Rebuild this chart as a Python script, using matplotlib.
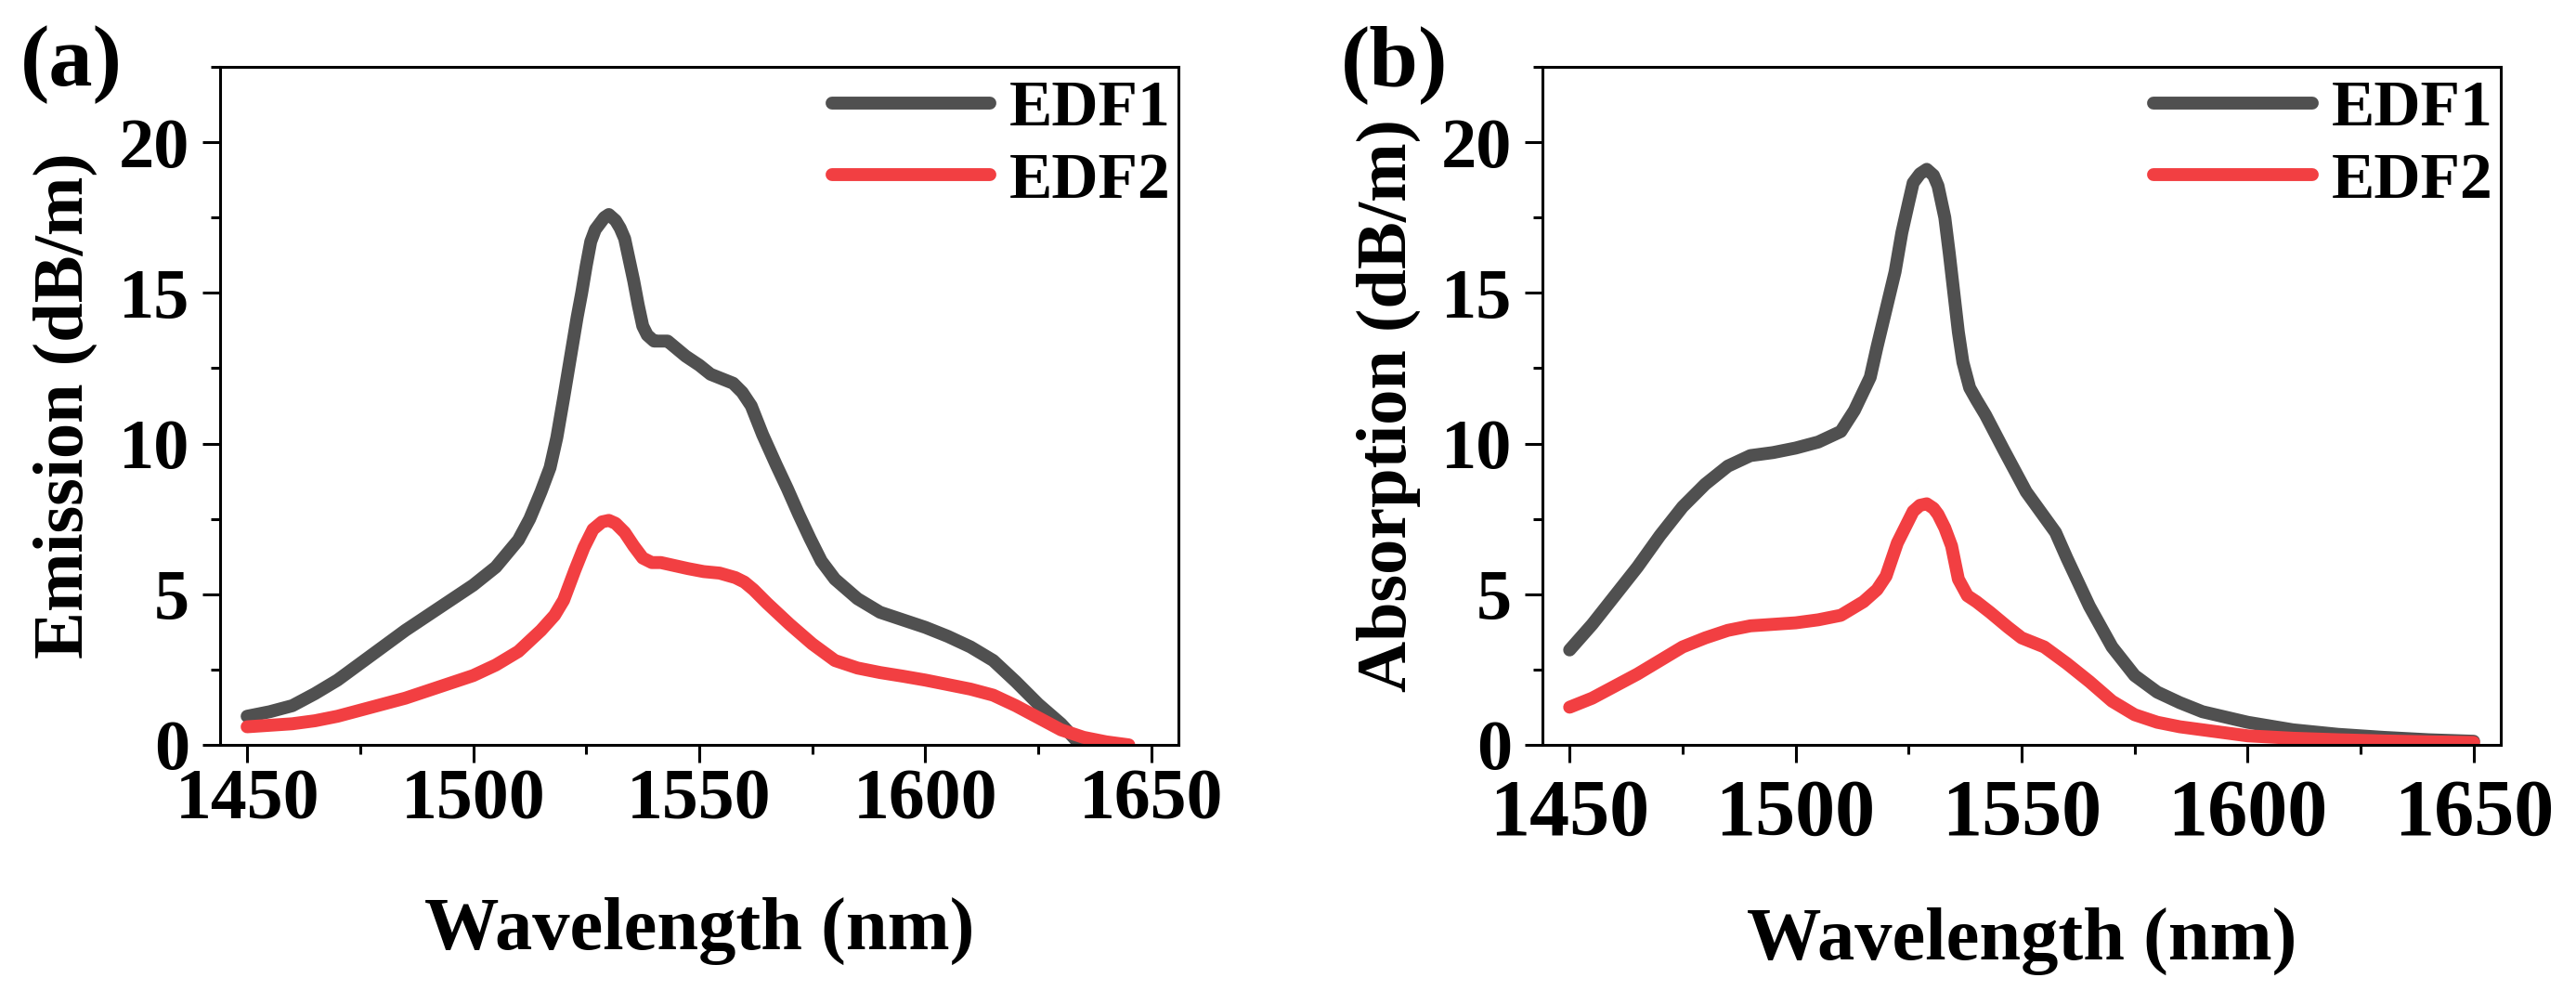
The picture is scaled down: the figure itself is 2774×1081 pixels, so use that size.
import matplotlib
matplotlib.use("Agg")
import matplotlib.pyplot as plt
from matplotlib.ticker import MultipleLocator

plt.rcParams['font.family'] = ['Liberation Serif', 'DejaVu Serif']
plt.rcParams['font.weight'] = 'bold'

# Emission (panel a)
em_wl = [1450, 1455, 1460, 1465, 1470, 1475, 1480, 1485, 1490, 1495, 1500, 1505, 1510, 1512.5,
         1515, 1517, 1518.5, 1520, 1522, 1523, 1524, 1525, 1526, 1527, 1528, 1529, 1530,
         1531.5, 1532.5, 1533.5, 1534.5, 1535.5, 1536.5, 1537.5, 1538.5, 1540, 1541.5, 1543,
         1545, 1547, 1550, 1552.5, 1555, 1557.5, 1559.5, 1561.5, 1564, 1567, 1569.5, 1572,
         1574.5, 1577, 1580, 1585, 1590, 1595, 1600, 1605, 1610, 1615, 1620, 1625, 1630, 1634]
em_edf1 = [0.95, 1.1, 1.3, 1.7, 2.15, 2.7, 3.25, 3.8, 4.3, 4.8, 5.3, 5.9, 6.8, 7.5,
           8.4, 9.2, 10.2, 11.5, 13.3, 14.2, 15.0, 15.9, 16.7, 17.1, 17.3, 17.5, 17.6,
           17.4, 17.15, 16.8, 16.1, 15.4, 14.6, 13.9, 13.6, 13.4, 13.4, 13.4,
           13.15, 12.9, 12.6, 12.3, 12.15, 12.0, 11.7, 11.25, 10.3, 9.3, 8.5, 7.65,
           6.85, 6.1, 5.5, 4.85, 4.4, 4.15, 3.9, 3.6, 3.25, 2.8, 2.1, 1.35, 0.7, 0.05]

em_wl2 = [1450, 1455, 1460, 1465, 1470, 1475, 1480, 1485, 1490, 1495, 1500, 1505, 1510, 1515,
          1518, 1520, 1522.5, 1524.5, 1526.5, 1528.5, 1530, 1531.5, 1533.5, 1535.5, 1537.5,
          1539.5, 1541.5, 1544.5, 1547.5, 1551, 1554.5, 1558, 1560, 1562, 1565, 1570, 1575,
          1580, 1585, 1590, 1595, 1600, 1605, 1610, 1615, 1620, 1625, 1630, 1635, 1640, 1645]
em_edf2 = [0.6, 0.65, 0.7, 0.8, 0.95, 1.15, 1.35, 1.55, 1.8, 2.05, 2.3, 2.65, 3.1, 3.8,
           4.3, 4.8, 5.8, 6.55, 7.15, 7.4, 7.45, 7.35, 7.05, 6.6, 6.2,
           6.05, 6.05, 5.95, 5.85, 5.75, 5.7, 5.55, 5.4, 5.15, 4.7, 4.0, 3.35,
           2.8, 2.55, 2.4, 2.28, 2.15, 2.0, 1.85, 1.65, 1.3, 0.9, 0.5, 0.25, 0.1, 0.0]

# Absorption (panel b)
ab_wl = [1450, 1455, 1460, 1465, 1470, 1475, 1480, 1485, 1490, 1495, 1500, 1505, 1510, 1513,
         1516.5, 1518, 1520, 1522, 1523.5, 1525, 1526, 1527.5, 1529, 1530.5, 1531.5, 1533,
         1534, 1535, 1536, 1537, 1538.5, 1540, 1542, 1546, 1551, 1557.5, 1560, 1565, 1570,
         1575, 1580, 1585, 1590, 1600, 1610, 1620, 1630, 1640, 1650]
ab_edf1 = [3.15, 4.0, 4.95, 5.9, 6.95, 7.9, 8.65, 9.25, 9.6, 9.7, 9.85, 10.05, 10.4, 11.1,
           12.2, 13.2, 14.45, 15.7, 17.0, 18.0, 18.65, 18.95, 19.1, 18.9, 18.55, 17.5,
           16.3, 15.0, 13.7, 12.7, 11.85, 11.45, 10.95, 9.8, 8.4, 7.05, 6.2, 4.6, 3.25,
           2.3, 1.75, 1.4, 1.1, 0.75, 0.5, 0.35, 0.25, 0.17, 0.12]

ab_wl2 = [1450, 1455, 1460, 1465, 1470, 1475, 1480, 1485, 1490, 1495, 1500, 1505, 1510, 1515,
          1518, 1520, 1522.5, 1524.5, 1526, 1527.5, 1529, 1530.5, 1531.5, 1533, 1534.5, 1536,
          1538, 1540, 1543, 1547, 1550, 1555, 1560, 1565, 1570, 1575, 1580, 1585, 1590, 1600,
          1610, 1620, 1630, 1640, 1650]
ab_edf2 = [1.25, 1.55, 1.95, 2.35, 2.8, 3.25, 3.55, 3.8, 3.95, 4.0, 4.05, 4.15, 4.3, 4.75,
           5.15, 5.6, 6.7, 7.3, 7.75, 7.95, 8.0, 7.85, 7.65, 7.2, 6.6, 5.5,
           4.95, 4.75, 4.4, 3.9, 3.55, 3.25, 2.7, 2.1, 1.45, 1.0, 0.75, 0.6, 0.5, 0.3,
           0.22, 0.17, 0.13, 0.1, 0.08]

labels = ["EDF1", "EDF2"]
colors = ["#505050", "#F23F42"]

fig = plt.figure(figsize=(27.74, 10.81), dpi=100)
ax_a = fig.add_axes([0.0854, 0.2581, 0.3721, 0.6753])
ax_b = fig.add_axes([0.5988, 0.2581, 0.3720, 0.6753])


def style_axes(ax, ylabel, xtick_size, xtick_pad, xlabel_pad):
    ax.set_xlim(1444, 1656)
    ax.set_ylim(0, 22.5)
    ax.xaxis.set_major_locator(MultipleLocator(50))
    ax.xaxis.set_minor_locator(MultipleLocator(25))
    ax.yaxis.set_major_locator(MultipleLocator(5))
    ax.yaxis.set_minor_locator(MultipleLocator(2.5))
    ax.tick_params(which='both', direction='out', width=2.2, top=False, right=False)
    ax.tick_params(which='major', length=13.7)
    ax.tick_params(which='minor', length=7.2)
    ax.tick_params(axis='x', labelsize=xtick_size, pad=xtick_pad)
    ax.tick_params(axis='y', labelsize=55, pad=10)
    for s in ax.spines.values():
        s.set_linewidth(2.2)
    ax.set_xlabel("Wavelength (nm)", fontsize=58, fontweight='bold', labelpad=xlabel_pad)
    ax.set_ylabel(ylabel, fontsize=55, fontweight='bold', labelpad=16)
    ax.legend(loc='upper right', frameon=False, fontsize=50, handlelength=2.45,
              handletextpad=0.3, labelspacing=0.2, borderaxespad=0.05, borderpad=0.15,
              bbox_to_anchor=(1.005, 1.0))


ax_a.plot(em_wl, em_edf1, color=colors[0], lw=10, solid_capstyle='round',
          solid_joinstyle='round', label=labels[0])
ax_a.plot(em_wl2, em_edf2, color=colors[1], lw=10, solid_capstyle='round',
          solid_joinstyle='round', label=labels[1])
style_axes(ax_a, "Emission (dB/m)", 56, 5, 48)

ax_b.plot(ab_wl, ab_edf1, color=colors[0], lw=10, solid_capstyle='round',
          solid_joinstyle='round', label=labels[0])
ax_b.plot(ab_wl2, ab_edf2, color=colors[1], lw=10, solid_capstyle='round',
          solid_joinstyle='round', label=labels[1])
style_axes(ax_b, "Absorption (dB/m)", 62, 13, 42)

fig.text(0.0079, 0.975, "(a)", fontsize=68, fontweight='bold', va='top', ha='left')
fig.text(0.5206, 0.975, "(b)", fontsize=68, fontweight='bold', va='top', ha='left')

fig.savefig("out.png", dpi=100)
